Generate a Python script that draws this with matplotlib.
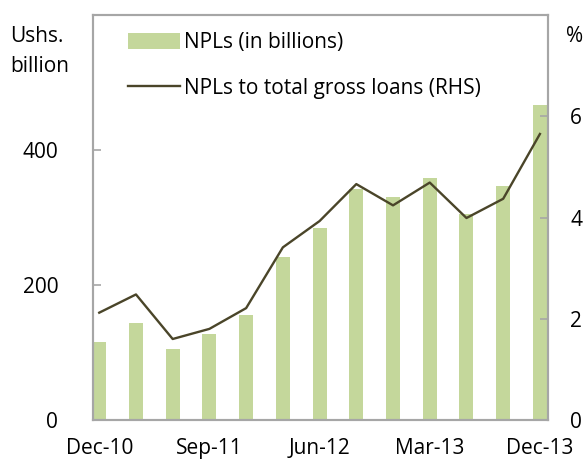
import matplotlib
matplotlib.use("Agg")
import matplotlib.pyplot as plt
import numpy as np

quarters = ["Dec-10", "Mar-11", "Jun-11", "Sep-11", "Dec-11", "Mar-12", "Jun-12",
            "Sep-12", "Dec-12", "Mar-13", "Jun-13", "Sep-13", "Dec-13"]
npl_billions = [116, 144, 105, 128, 155, 241, 284, 342, 330, 358, 305, 347, 467]
npl_ratio = [2.12, 2.48, 1.60, 1.80, 2.21, 3.41, 3.93, 4.66, 4.24, 4.69, 3.99, 4.37, 5.65]
tick_labels = ["Dec-10", "Sep-11", "Jun-12", "Mar-13", "Dec-13"]

plt.rcParams['font.family'] = ['Open Sans', 'DejaVu Sans']
FS = 15

bar_color = "#C4D79B"
line_color = "#4A4529"
spine_color = "#A6A6A6"

fig = plt.figure(figsize=(5.88, 4.63), dpi=100)
ax = fig.add_axes([93/588, 43/463, 455/588, 405/463])
x = np.arange(len(quarters))
bars = ax.bar(x, npl_billions, width=0.38, color=bar_color, label="NPLs (in billions)", zorder=2)
ax.set_xlim(-0.17, 12.22)
ax.set_ylim(0, 600)
ax.set_yticks([0, 200, 400])
ax.set_yticklabels(["0", "200", "400"], fontsize=FS)
tick_pos = [quarters.index(t) for t in tick_labels]
ax.set_xticks(tick_pos)
ax.set_xticklabels(tick_labels, fontsize=FS)

ax2 = ax.twinx()
line, = ax2.plot(x, npl_ratio, color=line_color, lw=1.7, label="NPLs to total gross loans (RHS)", zorder=3)
ax2.set_ylim(0, 8)
ax2.set_yticks([0, 2, 4, 6])
ax2.set_yticklabels(["0", "2", "4", "6"], fontsize=FS)

for a in (ax, ax2):
    for s in a.spines.values():
        s.set_color(spine_color)
        s.set_linewidth(1.5)
ax.tick_params(axis='y', direction='in', length=6, color=spine_color, width=1.2, pad=25)
ax.tick_params(axis='x', direction='in', length=5, color=spine_color, width=1.2, pad=13)
ax2.tick_params(axis='y', direction='in', length=6, color=spine_color, width=1.2, pad=16)

fig.text(10/588, 1 - 36/463, "Ushs.", fontsize=FS, va='center', ha='left')
fig.text(10/588, 1 - 67/463, "billion", fontsize=FS, va='center', ha='left')
fig.text(566/588, 1 - 36/463, "%", fontsize=FS, va='center', ha='left')

leg = ax2.legend([bars, line], ["NPLs (in billions)", "NPLs to total gross loans (RHS)"],
                 loc='upper left', bbox_to_anchor=(128/588, 1 - 32/463),
                 bbox_transform=fig.transFigure, frameon=False, fontsize=FS,
                 handlelength=2.5, handleheight=0.8, handletextpad=0.2,
                 labelspacing=1.2, borderpad=0, borderaxespad=0)

fig.savefig("out.png", dpi=100)
